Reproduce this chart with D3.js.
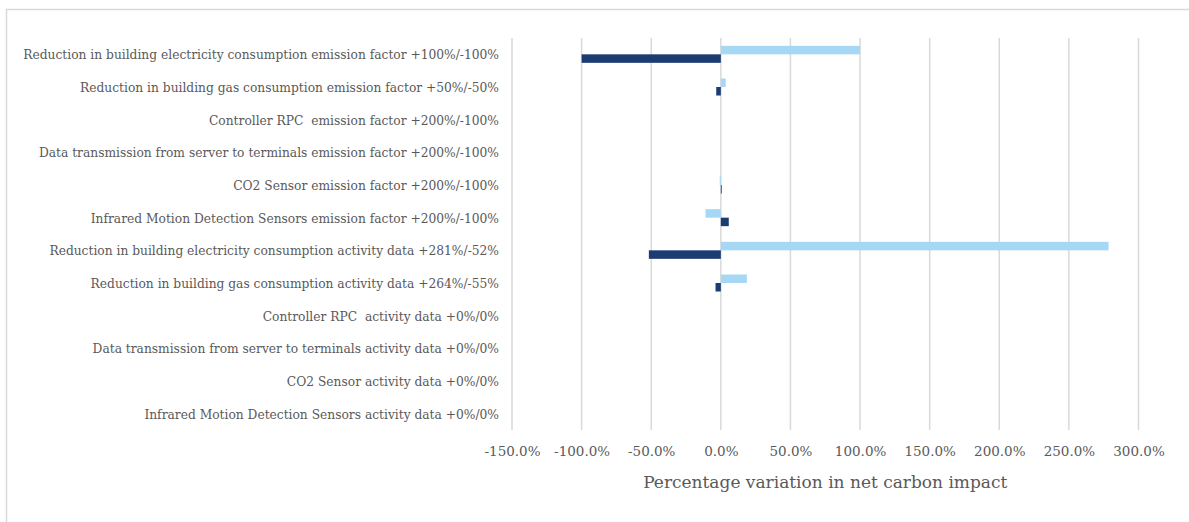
<!DOCTYPE html>
<html>
<head>
<meta charset="utf-8">
<script src="https://cdn.jsdelivr.net/npm/d3@7/dist/d3.min.js"></script>
<style>
  html, body { margin: 0; padding: 0; background: #fff; }
  svg { display: block; }
  text { font-family: "DejaVu Serif", serif; fill: #595959; white-space: pre; }
</style>
</head>
<body>
<svg id="chart" width="1189" height="522"></svg>
<script>
// Sensitivity scenarios, listed top to bottom
const categories = [
  "Reduction in building electricity consumption emission factor +100%/-100%",
  "Reduction in building gas consumption emission factor +50%/-50%",
  "Controller RPC  emission factor +200%/-100%",
  "Data transmission from server to terminals emission factor +200%/-100%",
  "CO2 Sensor emission factor +200%/-100%",
  "Infrared Motion Detection Sensors emission factor +200%/-100%",
  "Reduction in building electricity consumption activity data +281%/-52%",
  "Reduction in building gas consumption activity data +264%/-55%",
  "Controller RPC  activity data +0%/0%",
  "Data transmission from server to terminals activity data +0%/0%",
  "CO2 Sensor activity data +0%/0%",
  "Infrared Motion Detection Sensors activity data +0%/0%"
];
// Variation in net carbon impact (fraction), upper-bound and lower-bound scenario
const upperValues = [1.00, 0.035, 0, 0, -0.008, -0.11, 2.785, 0.187, 0, 0, 0, 0];
const lowerValues = [-1.00, -0.033, 0, 0, 0.006, 0.057, -0.517, -0.038, 0, 0, 0, 0];
const tickValues = [-1.5, -1.0, -0.5, 0, 0.5, 1.0, 1.5, 2.0, 2.5, 3.0];
const axisTitle = "Percentage variation in net carbon impact";

const svg = d3.select("#chart");

// outer chart frame
svg.append("rect")
  .attr("x", 6.5).attr("y", 9.5)
  .attr("width", 1200).attr("height", 530)
  .attr("fill", "none").attr("stroke", "#d9d9d9").attr("stroke-width", 1.5);

const plot = { left: 512, right: 1138.5, top: 38, bottom: 430 };

const x = d3.scaleLinear().domain([-1.5, 3.0]).range([plot.left, plot.right]);
const y = d3.scaleBand().domain(categories).range([plot.top, plot.bottom]).paddingInner(0.48).paddingOuter(0.24);
const sub = d3.scaleBand().domain(["upper", "lower"]).range([0, y.bandwidth()]);

// vertical gridlines
svg.append("g").selectAll("line").data(tickValues).join("line")
  .attr("x1", d => x(d)).attr("x2", d => x(d))
  .attr("y1", plot.top).attr("y2", plot.bottom)
  .attr("stroke", "#d9d9d9").attr("stroke-width", 1.5);

// bars
const series = [
  { key: "upper", values: upperValues, color: "#a6d8f5" },
  { key: "lower", values: lowerValues, color: "#1b3b73" }
];
series.forEach(s => {
  svg.append("g").selectAll("rect").data(categories).join("rect")
    .attr("x", (c, i) => Math.min(x(0), x(s.values[i])))
    .attr("width", (c, i) => Math.abs(x(s.values[i]) - x(0)))
    .attr("y", c => y(c) + sub(s.key))
    .attr("height", sub.bandwidth())
    .attr("fill", s.color);
});

// category labels
const yAxis = d3.axisLeft(y).tickSize(0).tickPadding(0);
const gy = svg.append("g").attr("transform", "translate(499,0.8)").call(yAxis);
gy.select(".domain").remove();
gy.selectAll("text").attr("font-size", 12.25).attr("dy", "0.33em")
  .style("font-family", "'DejaVu Serif', serif").style("fill", "#595959")
  .style("white-space", "pre");

// value axis labels (plain hyphen for negatives)
const pct = d3.format(".1f");
const xAxis = d3.axisBottom(x).tickValues(tickValues).tickSize(0).tickPadding(0)
  .tickFormat(d => (d < 0 ? "-" : "") + pct(Math.abs(d) * 100) + "%");
const gx = svg.append("g").attr("transform", "translate(0,446)").call(xAxis);
gx.select(".domain").remove();
gx.selectAll("text").attr("font-size", 13.5).attr("dy", "0.71em")
  .style("font-family", "'DejaVu Serif', serif").style("fill", "#595959");

// axis title
svg.append("text")
  .attr("x", (plot.left + plot.right) / 2).attr("y", 488)
  .attr("text-anchor", "middle").attr("font-size", 17)
  .text(axisTitle);
</script>
</body>
</html>
